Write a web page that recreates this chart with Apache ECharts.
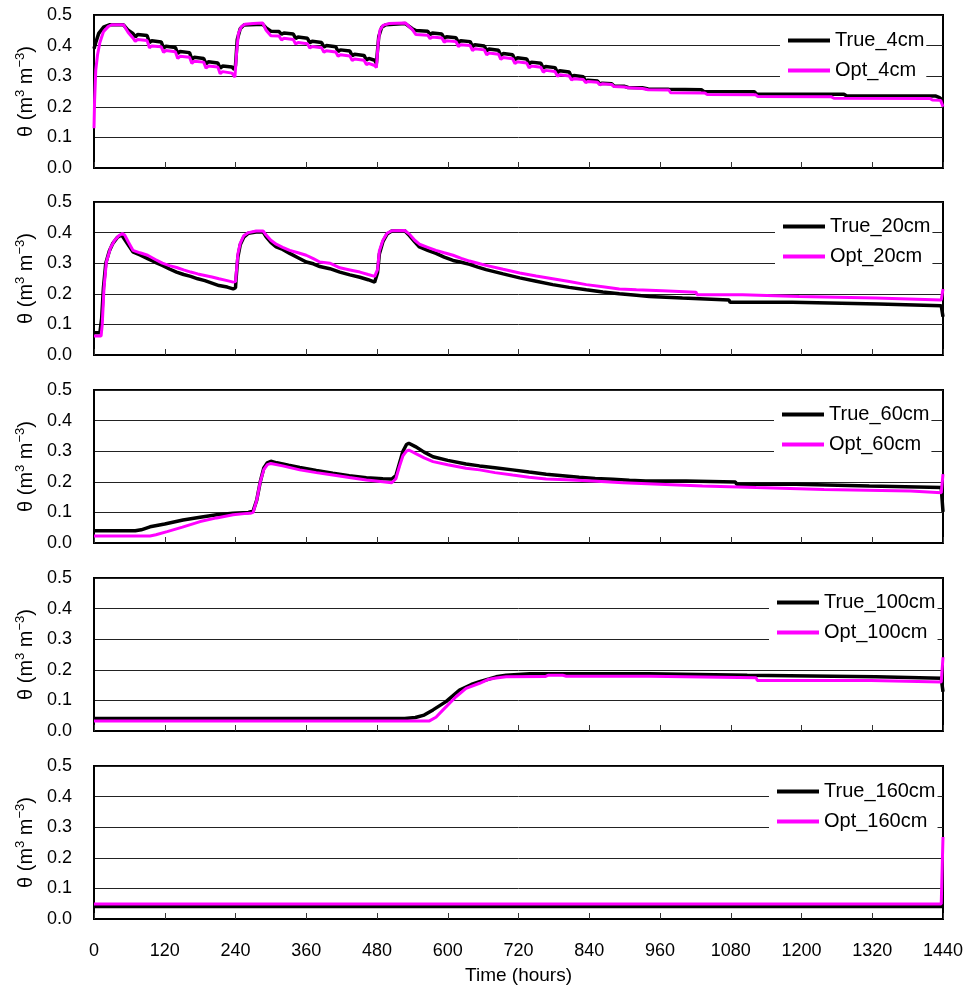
<!DOCTYPE html>
<html><head><meta charset="utf-8">
<script src="https://cdn.jsdelivr.net/npm/echarts@6/dist/echarts.min.js"></script>
<style>html,body{margin:0;padding:0;background:#fff}#c{width:965px;height:990px}</style>
</head><body><div id="c"></div>
<script>
// ---------- data ----------
const depths = ['4cm', '20cm', '60cm', '100cm', '160cm'];
const xTickStep = 120, xMax = 1440;
const yTickStep = 0.1, yMax = 0.5;

const true4 = [
[0,0.39],[3,0.41],[8,0.44],[16,0.46],[26,0.468],[50,0.468],[58,0.45],[66,0.44],
[70,0.428],[74,0.436],[90,0.433],
[94,0.41],[98,0.416],[114,0.412],
[118,0.392],[122,0.398],[138,0.394],
[142,0.374],[146,0.381],[162,0.377],
[166,0.355],[170,0.362],[186,0.358],
[190,0.34],[194,0.347],[210,0.343],
[214,0.326],[218,0.333],[234,0.33],[238,0.322],
[240,0.335],[243,0.42],[248,0.455],[254,0.467],[286,0.47],
[292,0.458],[300,0.447],[314,0.446],
[318,0.437],[322,0.441],[338,0.438],
[342,0.423],[346,0.428],[362,0.424],
[366,0.409],[370,0.414],[386,0.41],
[390,0.395],[394,0.4],[410,0.396],
[414,0.381],[418,0.386],[434,0.382],
[438,0.367],[442,0.372],[458,0.368],
[462,0.353],[466,0.358],[476,0.352],[479,0.342],
[480,0.345],[483,0.43],[488,0.46],[495,0.468],[528,0.472],[540,0.455],[546,0.449],
[566,0.447],[570,0.436],[574,0.441],[590,0.438],
[594,0.424],[598,0.429],[614,0.426],
[618,0.41],[622,0.416],[638,0.413],
[642,0.397],[646,0.403],[662,0.399],
[666,0.383],[670,0.389],[686,0.385],
[690,0.368],[694,0.374],[710,0.37],
[714,0.354],[718,0.36],[734,0.356],
[738,0.34],[742,0.346],[758,0.342],
[762,0.326],[766,0.332],[782,0.328],
[786,0.312],[790,0.318],[806,0.314],
[810,0.297],[814,0.302],[830,0.298],
[834,0.283],[838,0.287],[854,0.284],
[858,0.274],[862,0.277],[878,0.275],
[882,0.268],[900,0.267],[906,0.263],[930,0.262],[940,0.258],[975,0.257],[1030,0.256],[1034,0.25],
[1120,0.249],[1124,0.242],[1272,0.241],[1276,0.236],[1428,0.235],[1434,0.23],[1440,0.22]
];
const opt4 = [
[0,0.13],[1,0.22],[3,0.32],[6,0.37],[10,0.41],[16,0.445],[24,0.462],[30,0.468],[50,0.468],[58,0.443],[66,0.425],
[70,0.414],[74,0.42],[90,0.417],
[94,0.393],[98,0.399],[114,0.396],
[118,0.378],[122,0.384],[138,0.38],
[142,0.358],[146,0.365],[162,0.362],
[166,0.342],[170,0.349],[186,0.346],
[190,0.326],[194,0.333],[210,0.33],
[214,0.308],[218,0.315],[234,0.31],[239,0.297],
[240,0.3],[242,0.38],[245,0.44],[250,0.462],[256,0.47],[270,0.472],[286,0.474],
[292,0.45],[300,0.432],[314,0.431],
[318,0.418],[322,0.424],[338,0.42],
[342,0.405],[346,0.41],[362,0.406],
[366,0.392],[370,0.397],[386,0.393],
[390,0.378],[394,0.383],[410,0.379],
[414,0.365],[418,0.37],[434,0.366],
[438,0.351],[442,0.356],[458,0.352],
[462,0.338],[466,0.342],[476,0.335],[479,0.328],
[480,0.33],[482,0.41],[485,0.45],[490,0.466],[500,0.472],[528,0.474],[540,0.452],[546,0.436],
[566,0.434],[570,0.423],[574,0.428],[590,0.425],
[594,0.411],[598,0.416],[614,0.413],
[618,0.397],[622,0.403],[638,0.4],
[642,0.384],[646,0.39],[662,0.386],
[666,0.37],[670,0.376],[686,0.372],
[690,0.355],[694,0.361],[710,0.357],
[714,0.341],[718,0.347],[734,0.343],
[738,0.327],[742,0.333],[758,0.329],
[762,0.313],[766,0.319],[782,0.315],
[786,0.3],[790,0.305],[806,0.301],
[810,0.288],[814,0.292],[830,0.289],
[834,0.279],[838,0.283],[854,0.28],
[858,0.272],[862,0.275],[878,0.273],
[882,0.266],[900,0.265],[906,0.262],[930,0.26],[940,0.256],[975,0.255],[978,0.246],[1036,0.245],[1040,0.24],
[1122,0.239],[1126,0.234],[1250,0.233],[1255,0.228],[1418,0.227],[1422,0.222],[1436,0.221],[1440,0.2]
];

const true20 = [
[0,0.073],[10,0.073],[13,0.12],[16,0.22],[20,0.3],[26,0.34],[32,0.365],[40,0.385],[47,0.392],[50,0.39],[58,0.36],[66,0.337],
[78,0.327],[91,0.315],[104,0.303],[116,0.293],[128,0.281],[140,0.271],[152,0.263],[164,0.257],[176,0.249],[188,0.243],
[200,0.235],[212,0.227],[226,0.222],[236,0.216],[240,0.22],
[241,0.25],[244,0.32],[248,0.36],[254,0.385],[262,0.398],[275,0.402],[287,0.402],[292,0.386],[300,0.368],[309,0.353],
[320,0.345],[332,0.332],[346,0.318],[360,0.304],[372,0.298],[383,0.289],[400,0.282],[417,0.271],[434,0.262],[451,0.254],
[465,0.246],[476,0.238],[479,0.24],
[481,0.27],[484,0.33],[490,0.37],[497,0.395],[505,0.405],[527,0.406],[535,0.39],[544,0.37],[552,0.353],[566,0.342],
[580,0.332],[594,0.32],[609,0.309],[623,0.303],[637,0.296],[651,0.287],[665,0.279],[694,0.265],[722,0.252],[750,0.241],
[778,0.23],[806,0.221],[835,0.213],[863,0.206],[891,0.2],[920,0.195],[942,0.191],[944,0.186],[998,0.186],[1000,0.18],
[1077,0.18],[1079,0.172],[1184,0.172],[1186,0.167],[1331,0.167],[1333,0.161],[1437,0.161],[1440,0.125]
];
const opt20 = [
[0,0.062],[12,0.062],[14,0.1],[17,0.22],[21,0.304],[28,0.35],[35,0.375],[42,0.39],[48,0.397],[52,0.392],[58,0.37],[66,0.342],
[78,0.334],[91,0.326],[104,0.312],[116,0.3],[128,0.292],[140,0.286],[152,0.278],[164,0.271],[176,0.265],[188,0.26],
[200,0.255],[212,0.249],[226,0.243],[236,0.238],[240,0.24],
[241,0.26],[244,0.33],[248,0.365],[254,0.39],[262,0.4],[275,0.405],[287,0.405],[292,0.392],[300,0.375],[309,0.362],
[320,0.352],[332,0.342],[346,0.334],[360,0.326],[372,0.315],[383,0.304],[400,0.3],[417,0.285],[434,0.278],[451,0.271],
[465,0.263],[476,0.257],[479,0.258],
[481,0.28],[484,0.34],[490,0.375],[497,0.398],[505,0.406],[527,0.407],[535,0.395],[544,0.375],[552,0.362],[566,0.352],
[580,0.342],[594,0.334],[609,0.326],[623,0.316],[637,0.307],[651,0.3],[665,0.293],[694,0.28],[722,0.268],[750,0.258],
[778,0.249],[806,0.24],[835,0.23],[863,0.223],[891,0.216],[920,0.213],[964,0.21],[966,0.205],[1021,0.205],[1023,0.197],
[1100,0.197],[1102,0.191],[1196,0.191],[1198,0.186],[1326,0.186],[1328,0.18],[1437,0.18],[1440,0.216]
];

const true60 = [
[0,0.04],[70,0.04],[80,0.043],[95,0.053],[120,0.062],[151,0.075],[180,0.084],[208,0.092],[236,0.097],[262,0.1],
[270,0.105],[276,0.14],[282,0.2],[288,0.245],[294,0.262],[300,0.267],[310,0.262],[330,0.254],[349,0.247],[377,0.237],
[405,0.228],[433,0.22],[462,0.213],[490,0.21],[505,0.209],[512,0.22],[518,0.26],[524,0.3],[530,0.322],[534,0.326],
[545,0.315],[560,0.297],[575,0.282],[600,0.27],[631,0.258],[654,0.252],[680,0.246],[710,0.239],[738,0.232],[767,0.225],
[795,0.22],[823,0.215],[850,0.211],[880,0.208],[908,0.205],[936,0.203],[1004,0.203],[1006,0.199],[1088,0.199],[1090,0.192],
[1190,0.192],[1192,0.186],[1315,0.186],[1317,0.181],[1437,0.181],[1440,0.102]
];
const opt60 = [
[0,0.023],[95,0.023],[105,0.027],[124,0.037],[150,0.052],[180,0.07],[208,0.082],[236,0.092],[255,0.096],[265,0.097],
[270,0.1],[276,0.14],[282,0.2],[288,0.24],[294,0.256],[300,0.26],[320,0.252],[349,0.239],[377,0.23],[405,0.222],
[433,0.214],[462,0.206],[490,0.2],[505,0.197],[512,0.21],[518,0.25],[524,0.285],[530,0.3],[534,0.304],[545,0.293],
[560,0.278],[575,0.266],[600,0.256],[631,0.244],[654,0.239],[680,0.23],[710,0.222],[738,0.215],[767,0.209],[801,0.207],
[803,0.203],[846,0.203],[848,0.197],[897,0.197],[899,0.192],[959,0.192],[961,0.186],[1032,0.186],[1034,0.181],[1123,0.181],
[1125,0.175],[1238,0.175],[1240,0.17],[1385,0.17],[1387,0.164],[1437,0.164],[1440,0.225]
];

const true100 = [
[0,0.041],[527,0.041],[545,0.044],[560,0.052],[575,0.069],[597,0.096],[620,0.134],[640,0.152],[654,0.161],[670,0.17],
[682,0.177],[699,0.182],[739,0.187],[942,0.187],[944,0.182],[1108,0.182],[1110,0.177],[1326,0.177],[1328,0.172],
[1437,0.172],[1440,0.128]
];
const opt100 = [
[0,0.033],[569,0.033],[580,0.045],[592,0.069],[614,0.112],[631,0.139],[654,0.156],[668,0.168],[682,0.173],[699,0.177],
[765,0.178],[770,0.182],[795,0.182],[801,0.179],[942,0.179],[944,0.174],[1123,0.174],[1125,0.165],[1318,0.165],
[1320,0.16],[1437,0.16],[1440,0.241]
];

const true160 = [[0,0.041],[1440,0.041]];
const opt160 = [[0,0.049],[1437,0.049],[1440,0.268]];

const trueSeries = [true4, true20, true60, true100, true160];
const optSeries = [opt4, opt20, opt60, opt100, opt160];

// ---------- layout ----------
const FONT = '"Liberation Sans", Arial, sans-serif';
const gridTops = [15, 202, 390, 578, 766];
const legendPos = [[780, 26], [775, 212], [774, 400], [769, 588], [769, 777]];

const grids = [], xAxes = [], yAxes = [], series = [], legends = [];
gridTops.forEach((top, i) => {
  grids.push({left: 94, right: 22, top: top, height: 153, show: true, borderColor: '#000', borderWidth: 2,
              backgroundColor: '#fff', outerBoundsMode: 'none'});
  xAxes.push({
    gridIndex: i, type: 'value', min: 0, max: xMax, interval: xTickStep,
    axisLine: {show: true, onZero: false, lineStyle: {color: '#000', width: 2}},
    axisTick: {show: true, inside: true, length: 6, lineStyle: {color: '#333', width: 1}},
    axisLabel: {show: i === 4, margin: 23, fontSize: 18, color: '#000', fontFamily: FONT, formatter: v => String(v)},
    splitLine: {show: false},
    name: i === 4 ? 'Time (hours)' : '', nameLocation: 'middle', nameGap: 47,
    nameTextStyle: {fontSize: 19, color: '#000', fontFamily: FONT}
  });
  yAxes.push({
    gridIndex: i, type: 'value', min: 0, max: yMax, interval: yTickStep,
    axisLine: {show: true, lineStyle: {color: '#000', width: 2}},
    axisTick: {show: false},
    axisLabel: {formatter: v => v.toFixed(1), fontSize: 18, color: '#000', margin: 22, padding: [7, 0, 0, 0], fontFamily: FONT},
    splitLine: {show: true, lineStyle: {color: '#222', width: 1}},
    name: '{a|θ (m}{b|3}{a| m}{b|−3}{a|)}', nameLocation: 'middle', nameGap: 56, nameRotate: 90,
    nameTextStyle: {color: '#000', fontSize: 20, fontFamily: FONT,
      rich: {a: {fontSize: 20, color: '#000', fontFamily: FONT, verticalAlign: 'bottom', lineHeight: 22},
             b: {fontSize: 13, color: '#000', fontFamily: FONT, verticalAlign: 'bottom', lineHeight: 22, padding: [0, 0, 9, 0]}}}
  });
  const tName = 'True_' + depths[i], oName = 'Opt_' + depths[i];
  series.push({type: 'line', name: tName, xAxisIndex: i, yAxisIndex: i, data: trueSeries[i], symbol: 'none',
               lineStyle: {color: '#000', width: 3.5}, itemStyle: {color: '#000'}, animation: false});
  series.push({type: 'line', name: oName, xAxisIndex: i, yAxisIndex: i, data: optSeries[i], symbol: 'none',
               lineStyle: {color: '#ff00ff', width: 3}, itemStyle: {color: '#ff00ff'}, animation: false});
  legends.push({
    data: [tName, oName], orient: 'vertical', left: legendPos[i][0], top: legendPos[i][1],
    itemWidth: 42, itemHeight: 4, itemGap: 9, icon: 'rect', backgroundColor: '#fff',
    padding: [4, 2, 6, 8], selectedMode: false,
    textStyle: {fontSize: 20, color: '#000', lineHeight: 21, fontFamily: FONT}
  });
});

const chart = echarts.init(document.getElementById('c'), null, {renderer: 'canvas'});
chart.setOption({
  backgroundColor: '#fff',
  animation: false,
  grid: grids, xAxis: xAxes, yAxis: yAxes, series: series, legend: legends
});
</script></body></html>
